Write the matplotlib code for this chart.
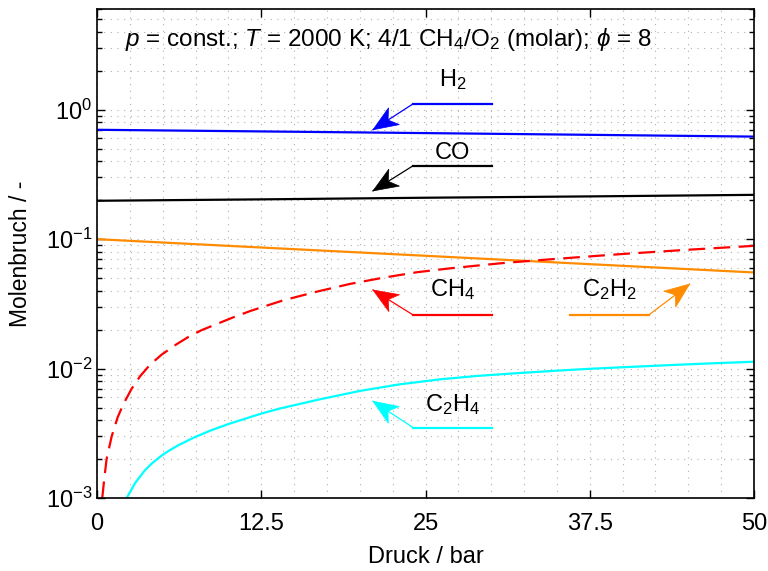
"""
Gleichgewichts-Molenbrüche über dem Druck (CH4/O2, T = 2000 K).
"""

import numpy as np
import matplotlib
matplotlib.use("Agg")
import matplotlib.pyplot as plt
from matplotlib.patches import Polygon
from matplotlib.transforms import IdentityTransform
from matplotlib.ticker import MultipleLocator, LogLocator, NullFormatter

plt.rcParams['font.family'] = ['Liberation Sans', 'DejaVu Sans']
plt.rcParams['mathtext.fontset'] = 'custom'
plt.rcParams['mathtext.rm'] = 'Liberation Sans'
plt.rcParams['mathtext.it'] = 'Liberation Sans:italic'
plt.rcParams['mathtext.bf'] = 'Liberation Sans:bold'

# --- Daten ---
p_h2 = [0, 12.5, 25, 37.5, 50]
x_h2 = [0.70, 0.68, 0.66, 0.64, 0.62]

p_co = [0, 12.5, 25, 37.5, 50]
x_co = [0.198, 0.203, 0.209, 0.214, 0.220]

p_c2h2 = [0, 12.5, 25, 37.5, 50]
x_c2h2 = [0.100, 0.0862, 0.0744, 0.0641, 0.0553]

p_ch4 = [0.40, 0.55, 0.73, 1.12, 1.57, 2.0, 2.64, 3.27, 4.03, 4.92, 6.0, 6.95,
         7.96, 10.5, 11.64, 12.5, 14.18, 16.72, 19.25, 21.79, 24.33, 26.86,
         29.4, 31.2, 35.0, 40.05, 45.1, 50]
x_ch4 = [0.0010, 0.0014, 0.0020, 0.0030, 0.0042, 0.0053, 0.0070, 0.0087, 0.0107,
         0.01282, 0.0153, 0.01754, 0.01982, 0.0252, 0.0278, 0.0297, 0.0337, 0.0393,
         0.0451, 0.0504, 0.0555, 0.0595, 0.0632, 0.0658, 0.0705, 0.0769, 0.0830,
         0.0888]

p_c2h4 = [2.26, 2.89, 3.65, 4.2, 4.92, 5.5, 6.2, 7.46, 8.7, 10.0, 12.5, 13.93,
          17.0, 20.0, 23.0, 26.1, 29.0, 32.2, 35.0, 37.8, 41.0, 44.1, 47.0, 50]
x_c2h4 = [0.0010, 0.0013, 0.00164, 0.00186, 0.00213, 0.00233, 0.00256, 0.00296,
          0.00334, 0.00373, 0.00449, 0.00492, 0.0058, 0.00672, 0.00755, 0.00826,
          0.00879, 0.00925, 0.00964, 0.0100, 0.01035, 0.0107, 0.0110, 0.0113]

# Beschriftungen: (Text, Farbe, Linie x0, x1, y, Pfeilspitze x, y, Textposition x, y)
labels = [
    (r'H$_2$', 'blue', 24.05, 30.05, 1.11, 21.0, 0.70, 27.05, 1.72),
    ('CO', 'black', 24.05, 30.05, 0.369, 21.0, 0.236, 27.05, 0.46),
    (r'CH$_4$', 'red', 24.05, 30.05, 0.026, 21.0, 0.0405, 27.05, 0.0405),
    (r'C$_2$H$_2$', '#ff8c00', 36.0, 42.0, 0.026, 45.1, 0.045, 39.0, 0.0405),
    (r'C$_2$H$_4$', 'cyan', 24.05, 30.05, 0.0035, 21.0, 0.0056, 27.05, 0.0053),
]

HEAD_LEN = 25.0    # Pixel
HEAD_NOTCH = 18.0
HEAD_HALF = 10.0


def draw_head(ax, start, tip, color):
    """Gefüllte Pfeilspitze mit Kerbe (gnuplot-Stil)."""
    s = ax.transData.transform(start)
    t = ax.transData.transform(tip)
    d = (t - s) / np.hypot(*(t - s))
    n = np.array([-d[1], d[0]])
    base = t - d * HEAD_LEN
    pts = [t, base + n * HEAD_HALF, t - d * HEAD_NOTCH, base - n * HEAD_HALF]
    ax.add_patch(Polygon(pts, closed=True, transform=IdentityTransform(),
                         facecolor=color, edgecolor=color, lw=0.5, zorder=4))


fig = plt.figure(figsize=(7.68, 5.71), dpi=100)
ax = fig.add_axes([0.1263, 0.1278, 0.8555, 0.8564])

ax.plot(p_h2, x_h2, color='blue', lw=1.6)
ax.plot(p_co, x_co, color='black', lw=1.6)
ax.plot(p_c2h2, x_c2h2, color='#ff8c00', lw=1.6)
ax.plot(p_ch4, x_ch4, color='red', lw=1.6, dashes=(7.5, 3.8))
ax.plot(p_c2h4, x_c2h4, color='cyan', lw=1.6)

ax.set_xscale('linear')
ax.set_yscale('log')
ax.set_xlim(0, 50)
ax.set_ylim(1e-3, 6.0)

for txt, col, x0, x1, yl, xa, ya, xt, yt in labels:
    ax.plot([x0, x1], [yl, yl], color=col, lw=1.6)
    start = x0 if xa < x0 else x1
    ax.plot([start, xa], [yl, ya], color=col, lw=0.9)
    draw_head(ax, (start, yl), (xa, ya), col)
    ax.text(xt, yt, txt, fontsize=17, ha='center', va='center')

ax.text(0.444, 0.937, r'$p$ = const.; $T$ = 2000 K; 4/1 CH$_4$/O$_2$ (molar); $\phi$ = 8',
        transform=ax.transAxes, fontsize=17.5, ha='center', va='center')

ax.set_xticks([0, 12.5, 25, 37.5, 50])
ax.set_xticklabels(['0', '12.5', '25', '37.5', '50'])
ax.xaxis.set_minor_locator(MultipleLocator(2.5))
ax.yaxis.set_major_locator(LogLocator(base=10, numticks=10))
ax.yaxis.set_minor_locator(LogLocator(base=10, subs=range(2, 10), numticks=20))
ax.yaxis.set_minor_formatter(NullFormatter())

ax.tick_params(which='both', direction='in', top=True, right=True, labelsize=17)
ax.tick_params(which='major', length=6, width=1)
ax.tick_params(which='minor', length=3.5, width=1)
ax.tick_params(axis='x', which='minor', length=0)
ax.tick_params(axis='x', which='major', pad=11)

ax.grid(which='both', color='#b0b0b0', linestyle=(0, (1, 5)), lw=0.8)
ax.set_axisbelow(True)
for s in ax.spines.values():
    s.set_linewidth(1.2)

ax.set_xlabel('Druck / bar', fontsize=17, labelpad=8)
ax.set_ylabel('Molenbruch / -', fontsize=16.5, labelpad=10)

fig.savefig('out.png', dpi=100)
